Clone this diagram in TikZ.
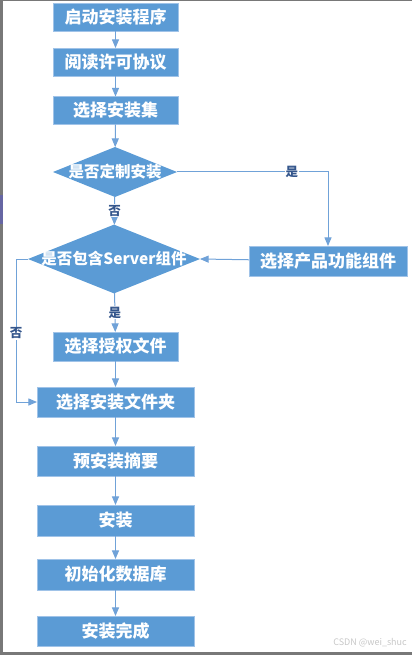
\documentclass[tikz,border=0pt]{standalone}
\usepackage{fontspec}
\setmainfont{Noto Sans CJK SC}
\usepackage{tikz}
\usetikzlibrary{shapes,arrows}
\definecolor{boxBlue}{RGB}{91,155,213}
\definecolor{boxEdge}{RGB}{160,195,232}
\definecolor{lineBlue}{RGB}{112,162,216}
\definecolor{labelBlue}{RGB}{52,86,140}
\definecolor{frameGray}{RGB}{120,120,120}

\begin{document}
\begin{tikzpicture}[x=1pt, y=-1pt]%
  \tikzset{normal arrow/.style={draw,-triangle 45,line width=1pt,lineBlue}}
  \tikzstyle{every node}=[draw=boxEdge, fill=boxBlue, text=white, rectangle, line width=0.8pt, outer sep=0pt, inner sep=0pt, font=\bfseries\fontsize{17}{18}\selectfont]
  \tikzstyle{decision}=[diamond, aspect=2.5, inner sep=-1.5pt, draw=none, font=\bfseries\fontsize{15.5}{16}\selectfont]
  \tikzstyle{tag}=[draw=none, fill=white, text=labelBlue, inner sep=1pt, font=\bfseries\fontsize{12.5}{13}\selectfont]

  \useasboundingbox (0,0) rectangle (412,655);
  \fill[frameGray] (0,0) rectangle (2.5,655);
  \fill[frameGray] (0,0) rectangle (412,1);
  \fill[frameGray] (0,652) rectangle (412,655);
  \fill[black!60!blue!60] (0,195) rectangle (3,224);

  \node[minimum width=125, minimum height=28] at (115.5,17) (Start) {启动安装程序};
  \node[minimum width=125, minimum height=28] at (115.5,62) (Read) {阅读许可协议};
  \node[minimum width=125, minimum height=28] at (115.5,110.5) (Set) {选择安装集};
  \node[decision, minimum width=124, minimum height=50] at (115,172) (Custom) {是否定制安装};
  \node[decision, minimum width=172, minimum height=66] at (114,259) (Server) {是否包含Server组件};
  \node[minimum width=158, minimum height=30] at (328,261) (Feat) {选择产品功能组件};
  \node[minimum width=125, minimum height=29] at (115.5,346.5) (Lic) {选择授权文件};
  \node[minimum width=157, minimum height=30] at (115.5,402) (Dir) {选择安装文件夹};
  \node[minimum width=157, minimum height=30] at (115.5,461) (Sum) {预安装摘要};
  \node[minimum width=157, minimum height=31] at (115.5,520.5) (Inst) {安装};
  \node[minimum width=157, minimum height=31] at (115.5,574.5) (Init) {初始化数据库};
  \node[minimum width=157, minimum height=30] at (115.5,631) (Done) {安装完成};
  \node[draw=none, fill=none, text=black!22, font=\fontsize{9}{10}\selectfont] at (370,643) (Mark) {CSDN @wei\_shuc};
  \coordinate (NoBend) at (16,259);

  \path[normal arrow] (Start) edge (Read);
  \path[normal arrow] (Read) edge (Set);
  \path[normal arrow] (Set) edge (Custom);
  \path[normal arrow] (Custom) edge node[tag, pos=0.5] {否} (Server);
  \draw[normal arrow] (Custom.east) -| node[tag, pos=0.38] {是} (Feat.north);
  \path[normal arrow] (Feat) edge (Server.east);
  \path[normal arrow] (Server) edge node[tag, pos=0.5] {是} (Lic);
  \draw[normal arrow] (Server.west) -- (NoBend) |- node[tag, pos=0.26] {否} (Dir.west);
  \path[normal arrow] (Lic) edge (Dir);
  \path[normal arrow] (Dir) edge (Sum);
  \path[normal arrow] (Sum) edge (Inst);
  \path[normal arrow] (Inst) edge (Init);
  \path[normal arrow] (Init) edge (Done);
\end{tikzpicture}
\end{document}
